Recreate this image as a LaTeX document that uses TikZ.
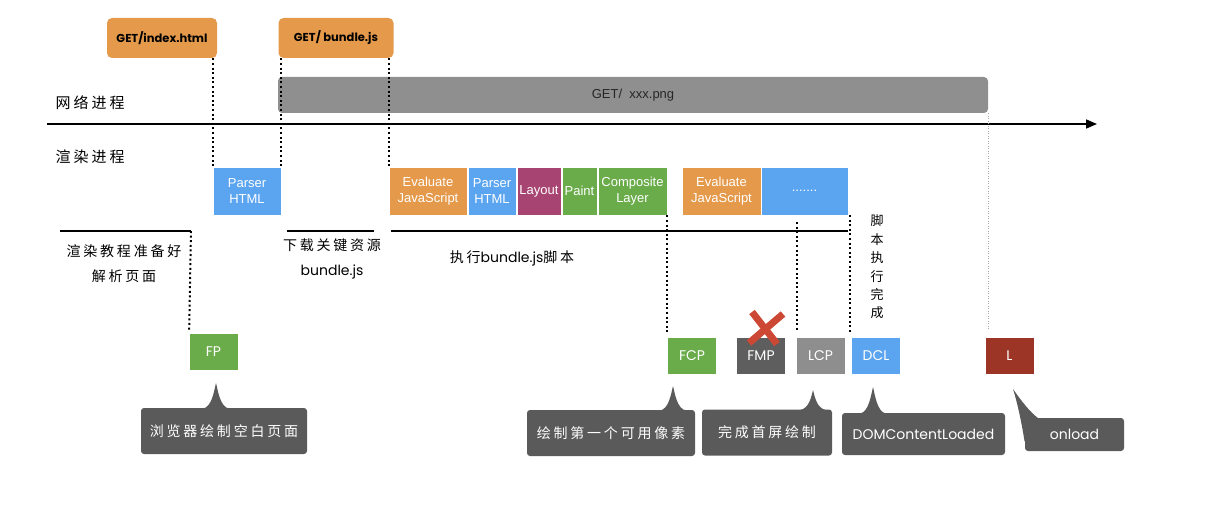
\documentclass[tikz,border=0pt]{standalone}
\usepackage{fontspec}
\setmainfont{Liberation Sans}
\newfontfamily\cjk{Noto Sans CJK SC}[LetterSpace=20]
\newfontfamily\rndfont{Poppins}
\usetikzlibrary{arrows.meta,calc}
\definecolor{getorange}{HTML}{E59A4B}
\definecolor{stepblue}{HTML}{5BA4EF}
\definecolor{layoutpink}{HTML}{A84472}
\definecolor{paintgreen}{HTML}{6AAB4A}
\definecolor{bargray}{HTML}{8F8F8F}
\definecolor{bubblegray}{HTML}{5A5A5A}
\definecolor{fmpgray}{HTML}{5E5E5E}
\definecolor{lcpgray}{HTML}{8E8E8E}
\definecolor{lred}{HTML}{9C3525}
\definecolor{crossred}{HTML}{CD4834}

\begin{document}
\begin{tikzpicture}[x=1pt,y=-1pt,line width=0.8 pt,
	blk/.style={draw=white, line width=0.6pt, text=white, inner sep=0pt, align=center, minimum height=48pt, font=\fontsize{13}{16}\selectfont},
	req/.style={fill=getorange, rounded corners=5pt, inner sep=0pt, minimum height=40pt, font=\rndfont\bfseries\fontsize{11.5}{13}\selectfont},
	mk/.style={text=white, inner sep=0pt, minimum width=48pt, minimum height=36pt, font=\rndfont\fontsize{14}{16}\selectfont},
	bubble/.style={fill=bubblegray, text=white, rounded corners=3pt, inner sep=0pt, minimum height=46pt, font=\cjk\fontsize{14}{16}\selectfont},
	lab/.style={inner sep=0pt, font=\cjk\fontsize{15}{18}\selectfont},
	note/.style={inner sep=0pt, align=center, font=\cjk\fontsize{14}{25}\selectfont},
	dots/.style={line width=2pt, dash pattern=on 2pt off 2.6pt},
	ldots/.style={draw=gray!70, line width=1.2pt, dash pattern=on 1pt off 1.5pt},
	bar/.style={line width=1.6pt}]
\useasboundingbox (0,0) rectangle (1214,524);

\node[req, minimum width=110pt] (getindex) at (162,38) {GET/index.html};
\node[req, minimum width=115pt] (getbundle) at (336,38) {GET/ bundle.js};
\node[fill=bargray, text=black!85, rounded corners=4pt, inner sep=0pt, minimum width=710pt, minimum height=36pt, font=\fontsize{13}{15}\selectfont] (png) at (633,95) {GET/ \ xxx.png};

\node[lab] (net) at (90,103) {网络进程};
\node[lab] (render) at (90,157) {渲染进程};
\draw[bar, -{Triangle[length=11pt, width=9pt]}] (47,124) coordinate (ax0) -- (1097,124) coordinate (ax1);

\node[blk, fill=stepblue, minimum width=68pt] (parser1) at (247,191) {Parser\\HTML};
\node[blk, fill=getorange, minimum width=78pt] (ev1) at (428,191) {Evaluate\\JavaScript};
\node[blk, fill=stepblue, minimum width=48pt] (parser2) at (492,191) {Parser\\HTML};
\node[blk, fill=layoutpink, minimum width=44pt] (layout) at (539,191) {Layout};
\node[blk, fill=paintgreen, minimum width=35pt] (paint) at (579.5,191) {Paint};
\node[blk, fill=paintgreen, minimum width=69pt] (comp) at (632.5,191) {Composite\\Layer};
\node[blk, fill=getorange, minimum width=79pt] (ev2) at (721.5,191) {Evaluate\\JavaScript};
\node[blk, fill=stepblue, minimum width=87pt] (more) at (804.5,191) {.......};

\draw[dots] (getindex.south east -| parser1.north west)--(parser1.north west);
\draw[dots] (getbundle.south west -| parser1.north east)--(parser1.north east);
\draw[dots] (getbundle.south east -| ev1.north west)--(ev1.north west);

\draw[bar] (60,231) coordinate (u1)--(191,231) coordinate (u1e);
\draw[bar] (287,231) coordinate (u2)--(374,231) coordinate (u2e);
\draw[bar] (391,231) coordinate (u3)--(848,231) coordinate (u3e);

\node[note] (prep) at (124,264) {渲染教程准备好\\解析页面};
\node[note] (dl) at (332,259) {下载关键资源\\{\rndfont bundle.js}};
\node[inner sep=0pt, font=\fontsize{14}{16}\selectfont] (exec) at (512,258) {{\cjk 执行}{\rndfont bundle.js}{\cjk 脚本}};
\node[inner sep=0pt, align=center, font=\cjk\fontsize{13}{18.4}\selectfont] (done) at (877,267) {脚\\本\\执\\行\\完\\成};

\node[mk, fill=paintgreen] (fp) at (213.5,352) {FP};
\node[mk, fill=paintgreen] (fcp) at (692,356) {FCP};
\node[mk, fill=fmpgray] (fmp) at (761,356) {FMP};
\node[mk, fill=lcpgray] (lcp) at (820.5,356) {LCP};
\node[mk, fill=stepblue] (dcl) at (876,356) {DCL};
\node[mk, fill=lred] (lbox) at (1009.5,356) {L};

\draw[dots, shorten >=4pt] (u1e)--(fp.north west);
\draw[dots, shorten >=3pt] (comp.south east)--(comp.south east |- fcp.north);
\draw[dots, shorten >=8pt] (797,222) coordinate (lcptop)--(lcptop |- lcp.north);
\draw[dots, shorten >=4pt] (850,215) coordinate (dcltop)--(dcltop |- dcl.north);
\draw[ldots, shorten >=8pt] (png.south east)--(png.south east |- lbox.north);

\draw[crossred, line width=7pt] (752,312)--(777,344);
\draw[crossred, line width=7pt] (783,314)--(749,343);

\node[bubble, minimum width=166pt] (c1) at (224,431) {浏览器绘制空白页面};
\node[bubble, minimum width=168pt] (c2) at (611,433) {绘制第一个可用像素};
\node[bubble, minimum width=130pt] (c3) at (767,432.5) {完成首屏绘制};
\node[bubble, minimum width=163pt, minimum height=42pt, font=\rndfont\fontsize{14}{16}\selectfont] (c4) at (923.5,434) {DOMContentLoaded};
\node[bubble, minimum width=99pt, minimum height=33pt, font=\rndfont\fontsize{14}{16}\selectfont] (c5) at (1074.5,434.5) {onload};

\coordinate (t1) at (216,383);
\coordinate (t2) at (673,386);
\coordinate (t3) at (813,390);
\coordinate (t4) at (873,387);
\coordinate (t5) at (1013,389);
\foreach \t/\c in {t1/c1,t2/c2,t3/c3,t4/c4}{
	\fill[bubblegray] ($(\t |- \c.north)+(-13,1)$) .. controls +(9,-2) and +(-2,8) .. (\t) .. controls +(2,8) and +(-9,-2) .. ($(\t |- \c.north)+(13,1)$)--cycle;
}
\fill[bubblegray] (t5) .. controls (1018,405) and (1022,425) .. ($(c5.north west)+(0,24)$)--($(c5.north west)+(14,1)$) .. controls (1030,412) and (1022,402) .. (t5);

\end{tikzpicture}
\end{document}
